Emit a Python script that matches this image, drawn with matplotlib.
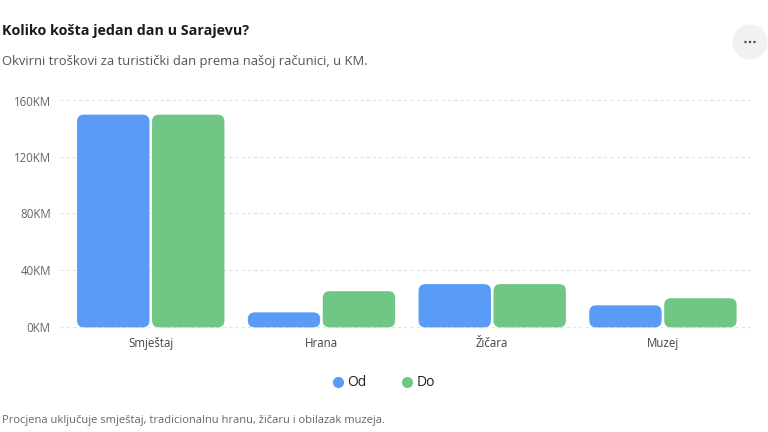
import matplotlib
matplotlib.use("Agg")
import matplotlib.pyplot as plt
from matplotlib.patches import FancyBboxPatch, Circle
from matplotlib.lines import Line2D

categories = ["Smještaj", "Hrana", "Žičara", "Muzej"]
od_values = [150, 10, 30, 15]
do_values = [150, 25, 30, 20]
series_names = ["Od", "Do"]
y_ticks = [0, 40, 80, 120, 160]
y_tick_labels = ["0KM", "40KM", "80KM", "120KM", "160KM"]

title = "Koliko košta jedan dan u Sarajevu?"
subtitle = "Okvirni troškovi za turistički dan prema našoj računici, u KM."
footnote = "Procjena uključuje smještaj, tradicionalnu hranu, žičaru i obilazak muzeja."

BLUE = "#5A9BF6"
GREEN = "#70C785"

plt.rcParams["font.family"] = ["Open Sans", "DejaVu Sans"]

W, H = 768, 432
fig = plt.figure(figsize=(W / 100, H / 100), dpi=100)
fig.patch.set_facecolor("white")

left_px, right_px = 65.4, 748.3
top_px, bottom_px = 100.5, 326.5
ax_w = right_px - left_px
ax = fig.add_axes([left_px / W, 1 - bottom_px / H, ax_w / W, (bottom_px - top_px) / H])
ax.set_xlim(-0.5, len(categories) - 0.5)
ax.set_ylim(0, 160)
ax.set_facecolor("none")

# gridlines
for t in y_ticks:
    ax.axhline(t, color="#e3e3e3", lw=0.9, ls=(0, (2.5, 2.5)), zorder=0,
               xmin=-5.4 / ax_w, xmax=1 + 4.7 / ax_w, clip_on=False)

bw = 0.424
off = 0.2195
band_px = ax_w / len(categories)
px_per_y = (bottom_px - top_px) / 160
aspect = band_px / px_per_y
xs = list(range(len(categories)))
for vals, sgn, col in [(od_values, -1, BLUE), (do_values, 1, GREEN)]:
    bars = ax.bar([x + sgn * off for x in xs], vals, width=bw, color="none")
    for b in bars:
        b.set_visible(False)
        p = FancyBboxPatch((b.get_x(), b.get_y() - 0.6), b.get_width(), b.get_height() + 0.6,
                           boxstyle="round,pad=0,rounding_size=0.04", mutation_aspect=aspect,
                           facecolor=col, edgecolor="none", zorder=3, clip_on=False)
        ax.add_patch(p)

ax.set_yticks(y_ticks)
ax.set_yticklabels(y_tick_labels, fontsize=8.3, color="#666666")
ax.set_xticks(xs)
ax.set_xticklabels(categories, fontsize=8.3, color="#444444")
ax.tick_params(axis="both", length=0)
ax.tick_params(axis="y", pad=10.5)
ax.tick_params(axis="x", pad=7.5)
for s in ax.spines.values():
    s.set_visible(False)

# titles
fig.text(2 / W, 1 - 31 / H, title, fontsize=10.3, fontweight="bold", color="#1a1a1a", va="center", ha="left")
fig.text(2 / W, 1 - 62 / H, subtitle, fontsize=9.4, color="#555555", va="center", ha="left")
fig.text(2 / W, 1 - 421 / H, footnote, fontsize=8.0, color="#666666", va="center", ha="left")

# legend
handles = [Line2D([], [], marker="o", ls="none", markersize=8, markerfacecolor=c, markeredgecolor="none")
           for c in (BLUE, GREEN)]
fig.legend(handles, series_names, loc="center", bbox_to_anchor=(383 / W, 1 - 383 / H), ncol=2,
           frameon=False, fontsize=10, handletextpad=0.2, columnspacing=2.4, handlelength=1.0,
           labelcolor="#222222")

# menu button
bax = fig.add_axes([0, 0, 1, 1], facecolor="none")
bax.set_xlim(0, W)
bax.set_ylim(H, 0)
bax.axis("off")
bax.add_patch(Circle((750, 42), 17.5, facecolor="#f1f1f1", edgecolor="none"))
for dx in (-4.5, 0, 4.5):
    bax.add_patch(Circle((750 + dx, 42), 1.2, facecolor="#444444", edgecolor="none"))

fig.savefig("out.png", dpi=100, facecolor="white")
